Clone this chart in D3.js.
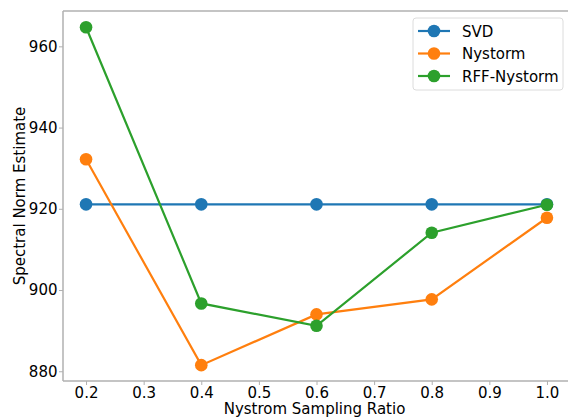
<!doctype html>
<html>
<head>
<meta charset="utf-8">
<title>Spectral Norm Estimate</title>
<script src="https://cdn.jsdelivr.net/npm/d3@7"></script>
<style>
  body { margin: 0; background: #fff; }
  text { font-family: "DejaVu Sans", sans-serif; }
</style>
</head>
<body>
<script>
// data
var ratios = [0.2, 0.4, 0.6, 0.8, 1.0];
var svdVals = [921.1, 921.1, 921.1, 921.1, 921.1];
var nystormVals = [932.2, 881.5, 894.0, 897.7, 917.8];
var rffVals = [964.7, 896.7, 891.2, 914.1, 921.0];
var seriesNames = ["SVD", "Nystorm", "RFF-Nystorm"];
var xTicks = [0.2, 0.3, 0.4, 0.5, 0.6, 0.7, 0.8, 0.9, 1.0];
var yTicks = [880, 900, 920, 940, 960];

var w = 568, h = 419;
var padL = 63, padT = 11, padR = 570, padB = 381;
var colors = ["#1f77b4", "#ff7f0e", "#2ca02c"];
var allSeries = [svdVals, nystormVals, rffVals];

var svg = d3.select("body").append("svg")
  .attr("width", w).attr("height", h);

var x = d3.scaleLinear().domain([0.16, 1.04]).range([padL, padR]);
var y = d3.scaleLinear().domain([877.6, 968.7]).range([padB, padT]);

// axes
var xAxis = svg.append("g")
  .attr("transform", "translate(0," + padB + ")")
  .call(d3.axisBottom(x).tickValues(xTicks).tickFormat(d3.format(".1f")).tickSize(4).tickPadding(2));
var yAxis = svg.append("g")
  .attr("transform", "translate(" + padL + ",0)")
  .call(d3.axisLeft(y).tickValues(yTicks).tickSize(4).tickPadding(1.5));

[xAxis, yAxis].forEach(function(a) {
  a.attr("font-size", 15).attr("font-family", "DejaVu Sans");
  a.select(".domain").remove();
  a.selectAll("line").attr("stroke", "#b0b0b0");
  a.selectAll("text").attr("fill", "#000");
});

// spines
svg.append("line").attr("x1", padL).attr("x2", padL).attr("y1", padT).attr("y2", padB)
  .attr("stroke", "#b0b0b0").attr("stroke-width", 1.5);
svg.append("line").attr("x1", padL).attr("x2", padR).attr("y1", padB).attr("y2", padB)
  .attr("stroke", "#b0b0b0").attr("stroke-width", 1.5);
svg.append("line").attr("x1", padL).attr("x2", padR).attr("y1", padT).attr("y2", padT)
  .attr("stroke", "#b0b0b0").attr("stroke-width", 1.5);

// lines and markers
var line = d3.line()
  .x(function(d, i) { return x(ratios[i]); })
  .y(function(d) { return y(d); });

allSeries.forEach(function(vals, k) {
  svg.append("path")
    .datum(vals)
    .attr("d", line)
    .attr("fill", "none")
    .attr("stroke", colors[k])
    .attr("stroke-width", 2.2);
  svg.selectAll(".m" + k)
    .data(vals)
    .enter()
    .append("circle")
    .attr("class", "m" + k)
    .attr("cx", function(d, i) { return x(ratios[i]); })
    .attr("cy", function(d) { return y(d); })
    .attr("r", 6.3)
    .attr("fill", colors[k]);
});

// axis labels
svg.append("text")
  .attr("x", (padL + padR) / 2 - 2).attr("y", 414)
  .attr("text-anchor", "middle").attr("font-size", "15px")
  .text("Nystrom Sampling Ratio");
svg.append("text")
  .attr("transform", "translate(25," + ((padT + padB) / 2) + ") rotate(-90)")
  .attr("text-anchor", "middle").attr("font-size", "15px")
  .text("Spectral Norm Estimate");

// legend
var lg = svg.append("g").attr("transform", "translate(413,18)");
lg.append("rect")
  .attr("width", 150).attr("height", 72).attr("rx", 3)
  .attr("fill", "#fff").attr("stroke", "#dcdcdc");
seriesNames.forEach(function(name, k) {
  var yy = 13 + k * 22.5;
  lg.append("line").attr("x1", 5).attr("x2", 37).attr("y1", yy).attr("y2", yy)
    .attr("stroke", colors[k]).attr("stroke-width", 2.2);
  lg.append("circle").attr("cx", 21).attr("cy", yy).attr("r", 6.3).attr("fill", colors[k]);
  lg.append("text").attr("x", 49).attr("y", yy + 5.5)
    .attr("font-size", "15px").text(name);
});
</script>
</body>
</html>
